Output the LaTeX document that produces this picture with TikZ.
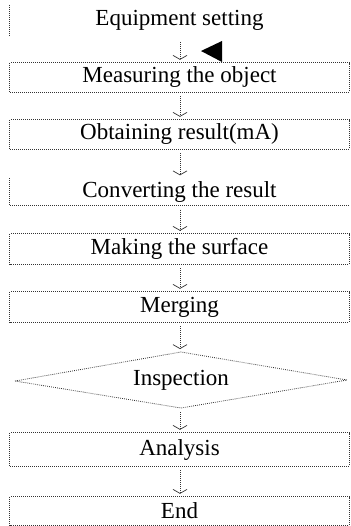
\documentclass[tikz,border=0pt]{standalone}
\usepackage{fontspec}
\setmainfont{Liberation Serif}
\usetikzlibrary{arrows.meta}
\begin{document}
\begin{tikzpicture}[x=1pt,y=-1pt,
  dotline/.style={line width=0.8pt,dash pattern=on 0.8pt off 1.2pt,black!80},
  stepbox/.style={minimum width=339pt,inner sep=0pt,
    font=\rmfamily\fontsize{23}{25}\selectfont},
  flow/.style={dotline,-{Straight Barb[length=4pt,width=14pt,line width=0.7pt]},
    shorten >=3pt,shorten <=4pt}]
\useasboundingbox (0,0) rectangle (350,526);

% process steps
\node[stepbox,minimum height=30pt] (s1) at (179.5,20) {Equipment setting};
\node[stepbox,minimum height=29pt] (s2) at (179.5,77.5) {Measuring the object};
\node[stepbox,minimum height=29pt] (s3) at (179.5,134.5) {Obtaining result(mA)};
\node[stepbox,minimum height=27pt] (s4) at (179.5,192) {Converting the result};
\node[stepbox,minimum height=30pt] (s5) at (179.5,249) {Making the surface};
\node[stepbox,minimum height=30pt] (s6) at (179.5,307) {Merging};
\node[stepbox,minimum height=0pt] (s7) at (181,380) {Inspection};
\node[stepbox,minimum height=33pt] (s8) at (179.5,449.5) {Analysis};
\node[stepbox,minimum height=28pt] (s9) at (179.5,511) {End};

% decision diamond
\coordinate (dl) at (15,381);
\coordinate (dt) at (181,352);
\coordinate (dr) at (347,380);
\coordinate (db) at (181,408);
\draw[dotline] (dl) -- (dt) -- (dr) -- (db) -- cycle;

% box outlines
\draw[dotline] (s1.north west) -- (s1.south west);
\draw[dotline] (s2.north west) rectangle (s2.south east);
\draw[dotline] (s3.north west) rectangle (s3.south east);
\draw[dotline] (s4.north west) -- (s4.south west) -- (s4.south east);
\draw[dotline] (s5.north west) rectangle (s5.south east);
\draw[dotline] (s6.north west) rectangle (s6.south east);
\draw[dotline] (s8.north west) rectangle (s8.south east);
\draw[dotline] (s9.north west) rectangle (s9.south east);

% connectors
\coordinate (c1) at (180,38);
\draw[flow] (c1) -- (s2.north -| c1);
\draw[flow] (s2.south -| c1) -- (s3.north -| c1);
\draw[flow] (s3.south -| c1) -- (s4.north -| c1);
\draw[flow] (s4.south -| c1) -- (s5.north -| c1);
\draw[flow] (s5.south -| c1) -- (s6.north -| c1);
\draw[flow] (s6.south -| c1) -- (dt -| c1);
\draw[flow] (db -| c1) -- (s8.north -| c1);
\draw[flow] (s8.south -| c1) -- (s9.north -| c1);

% pointer mark beside the first connector
\coordinate (tp) at (201,51);
\fill (tp) -- (222,41) -- (222,62) -- cycle;
\end{tikzpicture}
\end{document}
